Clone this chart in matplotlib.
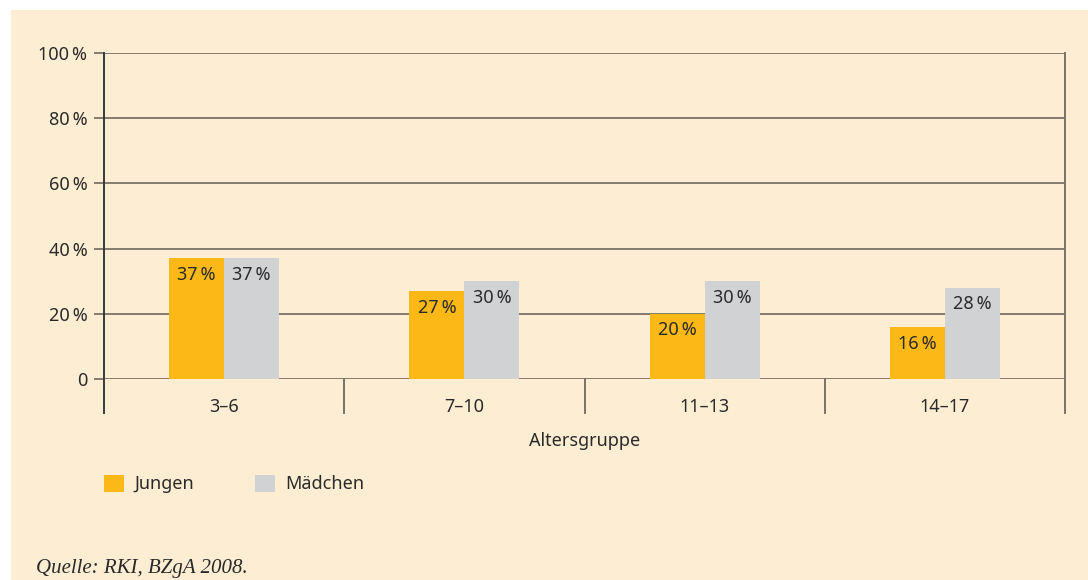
#!/usr/bin/env python3
"""
Grouped bar chart: Anteil nach Altersgruppe, Jungen vs. Mädchen.
"""

import numpy as np
import matplotlib.pyplot as plt
from matplotlib.patches import Rectangle, Patch
from matplotlib.lines import Line2D

groups = ["3–6", "7–10", "11–13", "14–17"]
jungen = [37, 27, 20, 16]
maedchen = [37, 30, 30, 28]
yticks = [0, 20, 40, 60, 80, 100]
ytick_labels = ["0", "20\u2009%", "40\u2009%", "60\u2009%", "80\u2009%", "100\u2009%"]

bg = "#FDEED3"
orange = "#FBB817"
grey = "#D1D2D4"
line_col = "#7A7264"
text_col = "#2A2A2A"

plt.rcParams['font.family'] = ['Noto Sans', 'DejaVu Sans']

fig = plt.figure(figsize=(10.88, 5.8), dpi=100)
fig.patch.set_facecolor("white")
# background panel
fig.patches.append(Rectangle((11 / 1088, 0), 1, 1 - 10 / 580,
                             transform=fig.transFigure, facecolor=bg,
                             edgecolor="none", zorder=-10))

ax = fig.add_axes([104 / 1088, 1 - 379 / 580, (1065 - 104) / 1088, (379 - 53) / 580])
ax.set_facecolor("none")

x = np.arange(len(groups))
w = 0.229
b1 = ax.bar(x - w / 2, jungen, w, color=orange, zorder=3)
b2 = ax.bar(x + w / 2, maedchen, w, color=grey, zorder=3)

for bars, vals in ((b1, jungen), (b2, maedchen)):
    for r, v in zip(bars, vals):
        ax.annotate(f"{v}\u2009%", (r.get_x() + r.get_width() / 2, v),
                    xytext=(0, -12), textcoords="offset points",
                    ha="center", va="center", fontsize=13, color=text_col,
                    zorder=4)

ax.set_xlim(-0.5, len(groups) - 0.5)
ax.set_ylim(0, 100)
ax.set_yticks(yticks)
ax.set_yticklabels(ytick_labels)
ax.yaxis.grid(True, color=line_col, linewidth=1.3, zorder=1)
ax.tick_params(axis="y", length=7, width=1.3, color=line_col, pad=5,
               labelsize=13, labelcolor=text_col)
ax.set_xticks(x)
ax.set_xticklabels(groups)
ax.tick_params(axis="x", length=0, pad=14, labelsize=13, labelcolor=text_col)
ax.set_xlabel("Altersgruppe", fontsize=13, color=text_col, labelpad=11)

for s in ("top", "bottom", "right", "left"):
    ax.spines[s].set_visible(False)

# left and right frame lines run full height, separators only below the axis
trans = ax.get_xaxis_transform()
n = len(groups)
for xv in np.arange(-0.5, n, 1.0):
    top = 1 if xv in (-0.5, n - 0.5) else 0
    col = "#3A3A3A" if xv == -0.5 else line_col
    ax.add_line(Line2D([xv, xv], [-0.104, top], transform=trans, color=col,
                       linewidth=1.4, clip_on=False, zorder=2))

handles = [Patch(facecolor=orange, label="Jungen"),
           Patch(facecolor=grey, label="Mädchen")]
fig.legend(handles=handles, loc="center left",
           bbox_to_anchor=(88 / 1088, 1 - 484 / 580), ncol=2, frameon=False,
           fontsize=13, handlelength=1.1, handleheight=1.1,
           handletextpad=0.55, columnspacing=3.4, labelcolor=text_col)

fig.text(36 / 1088, 1 - 569 / 580, "Quelle: RKI, BZgA 2008.",
         family="Liberation Serif", style="italic", fontsize=15,
         color=text_col, va="center")

fig.savefig("out.png", dpi=100)
